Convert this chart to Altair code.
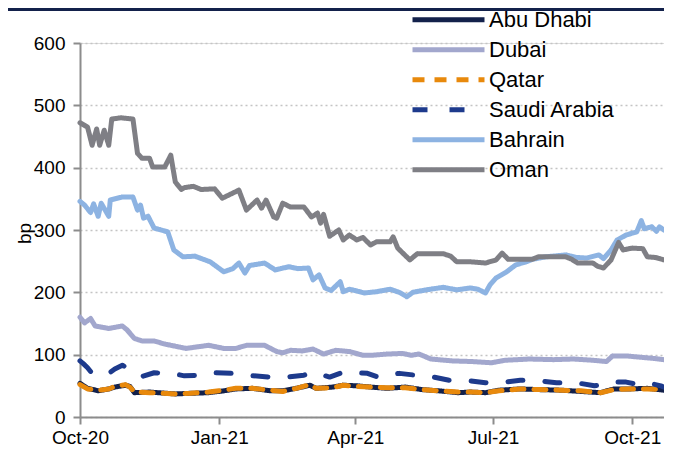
import altair as alt
import pandas as pd

series_names = ["Abu Dhabi", "Dubai", "Qatar", "Saudi Arabia", "Bahrain", "Oman"]
series_colors = ["#13214b", "#a2a7cd", "#e8890c", "#1d3a8c", "#8db3e2", "#7f7f85"]
series_dashes = [[1, 0], [1, 0], [12, 10], [15, 22], [1, 0], [1, 0]]

y_ticks = [0, 100, 200, 300, 400, 500, 600]

abu_dates = ["2020-10-01","2020-10-06","2020-10-13","2020-10-20","2020-10-24","2020-10-31","2020-11-03","2020-11-06","2020-11-16","2020-12-03","2020-12-13","2020-12-25","2021-01-04","2021-01-12","2021-01-23","2021-02-04","2021-02-12","2021-02-21","2021-03-02","2021-03-06","2021-03-17","2021-03-24","2021-04-02","2021-04-11","2021-04-22","2021-05-04","2021-05-15","2021-05-26","2021-06-08","2021-06-16","2021-06-26","2021-07-05","2021-07-19","2021-07-31","2021-08-15","2021-08-28","2021-09-10","2021-09-19","2021-09-29","2021-10-11","2021-10-22"]
abu_values = [54,46,42,45,48,51,49,39,40,37,38,39,42,45,46,42,42,46,51,46,48,51,50,48,46,48,44,42,39,40,39,43,45,44,43,41,39,45,45,46,43]

qatar_dates = abu_dates
qatar_values = [52,45,43,45,49,52,48,40,39,37,38,40,43,46,46,43,41,46,52,46,47,51,49,48,47,47,44,42,40,40,39,42,45,44,43,42,39,44,45,45,44]

dubai_dates = ["2020-10-01","2020-10-04","2020-10-08","2020-10-11","2020-10-20","2020-10-29","2020-11-01","2020-11-06","2020-11-11","2020-11-19","2020-11-26","2020-12-10","2020-12-16","2020-12-25","2021-01-04","2021-01-12","2021-01-19","2021-01-31","2021-02-08","2021-02-12","2021-02-17","2021-02-25","2021-03-04","2021-03-11","2021-03-19","2021-03-28","2021-04-06","2021-04-12","2021-04-22","2021-05-02","2021-05-08","2021-05-13","2021-05-21","2021-06-04","2021-06-17","2021-06-30","2021-07-09","2021-07-25","2021-08-10","2021-08-23","2021-09-05","2021-09-14","2021-09-18","2021-09-27","2021-10-06","2021-10-15","2021-10-22"]
dubai_values = [160,151,158,146,142,146,140,126,122,122,117,110,112,115,110,110,115,115,105,103,107,106,109,101,107,105,99,99,101,102,99,101,93,90,89,87,91,93,92,93,91,89,98,98,96,94,92]

saudi_dates = ["2020-10-01","2020-10-03","2020-10-06","2020-10-09","2020-10-14","2020-10-20","2020-10-24","2020-10-29","2020-11-01","2020-11-06","2020-11-11","2020-11-19","2020-12-03","2020-12-09","2020-12-21","2020-12-28","2021-01-09","2021-01-19","2021-02-04","2021-02-15","2021-02-26","2021-03-04","2021-03-15","2021-03-24","2021-04-02","2021-04-09","2021-04-16","2021-04-24","2021-04-30","2021-05-11","2021-05-23","2021-06-02","2021-06-15","2021-06-26","2021-07-09","2021-07-19","2021-07-31","2021-08-12","2021-08-25","2021-09-06","2021-09-12","2021-09-17","2021-09-27","2021-10-05","2021-10-11","2021-10-20","2021-10-22"]
saudi_values = [90,86,79,70,68,70,77,83,79,72,65,71,69,66,67,71,70,67,64,64,67,72,64,72,71,70,64,68,70,67,64,59,58,55,56,59,58,55,55,50,52,56,56,52,55,50,48]

bahrain_dates = ["2020-10-01","2020-10-04","2020-10-08","2020-10-10","2020-10-13","2020-10-15","2020-10-20","2020-10-21","2020-10-29","2020-11-05","2020-11-08","2020-11-10","2020-11-12","2020-11-15","2020-11-19","2020-11-28","2020-12-02","2020-12-08","2020-12-16","2020-12-26","2021-01-04","2021-01-10","2021-01-14","2021-01-18","2021-01-21","2021-01-31","2021-02-07","2021-02-16","2021-02-22","2021-03-01","2021-03-04","2021-03-08","2021-03-12","2021-03-16","2021-03-22","2021-03-24","2021-03-28","2021-04-07","2021-04-15","2021-04-24","2021-04-30","2021-05-05","2021-05-09","2021-05-18","2021-05-29","2021-06-07","2021-06-16","2021-06-21","2021-06-26","2021-06-29","2021-07-03","2021-07-10","2021-07-16","2021-07-23","2021-07-27","2021-08-05","2021-08-18","2021-08-25","2021-09-01","2021-09-09","2021-09-12","2021-09-17","2021-09-21","2021-09-27","2021-10-04","2021-10-07","2021-10-09","2021-10-14","2021-10-17","2021-10-19","2021-10-22"]
bahrain_values = [346,340,328,342,322,343,322,348,353,353,332,340,319,322,303,297,268,257,258,249,233,238,247,231,243,247,236,241,238,239,220,228,207,203,217,201,205,199,201,205,200,193,200,204,208,204,207,205,199,212,223,233,244,249,253,257,260,256,255,260,254,268,284,292,297,315,302,305,298,305,300]

oman_dates = ["2020-10-01","2020-10-06","2020-10-09","2020-10-12","2020-10-14","2020-10-17","2020-10-20","2020-10-22","2020-10-28","2020-11-05","2020-11-08","2020-11-11","2020-11-16","2020-11-18","2020-11-26","2020-11-30","2020-12-03","2020-12-07","2020-12-09","2020-12-15","2020-12-20","2020-12-29","2021-01-03","2021-01-14","2021-01-19","2021-01-26","2021-01-29","2021-02-01","2021-02-06","2021-02-08","2021-02-12","2021-02-17","2021-02-26","2021-03-03","2021-03-07","2021-03-09","2021-03-11","2021-03-15","2021-03-21","2021-03-24","2021-03-28","2021-04-02","2021-04-06","2021-04-11","2021-04-15","2021-04-24","2021-04-26","2021-04-29","2021-05-07","2021-05-12","2021-05-29","2021-06-03","2021-06-07","2021-06-16","2021-06-26","2021-07-03","2021-07-07","2021-07-11","2021-07-27","2021-07-31","2021-08-18","2021-08-22","2021-08-26","2021-09-05","2021-09-08","2021-09-12","2021-09-17","2021-09-22","2021-09-25","2021-10-01","2021-10-08","2021-10-11","2021-10-16","2021-10-22"]
oman_values = [472,465,436,462,436,460,436,478,480,478,423,415,415,401,401,420,377,365,368,370,365,366,351,364,332,348,335,348,321,319,343,337,337,321,327,311,325,290,300,284,292,284,288,276,281,281,289,271,252,262,262,258,249,249,247,252,263,253,253,257,257,253,247,247,242,239,252,280,268,271,270,257,256,252]

series_data = {
    "Abu Dhabi": (abu_dates, abu_values),
    "Dubai": (dubai_dates, dubai_values),
    "Qatar": (qatar_dates, qatar_values),
    "Saudi Arabia": (saudi_dates, saudi_values),
    "Bahrain": (bahrain_dates, bahrain_values),
    "Oman": (oman_dates, oman_values),
}

rows = []
for name in series_names:
    d, v = series_data[name]
    assert len(d) == len(v), name
    for di, vi in zip(d, v):
        rows.append({"series": name, "date": di, "value": vi})
df = pd.DataFrame(rows)

FONT = "Liberation Sans"
W, H = 584, 374


def dt(y, m, d):
    return alt.DateTime(year=y, month=m, date=d, utc=True)


x_enc = alt.X(
    "date:T",
    scale=alt.Scale(type="utc", domain=[dt(2020, 10, 1), dt(2021, 10, 22)]),
    axis=alt.Axis(
        values=[dt(2020, 10, 1), dt(2021, 1, 1), dt(2021, 4, 1), dt(2021, 7, 1), dt(2021, 10, 1)],
        labelExpr="utcFormat(datum.value, '%b-%y')", title=None, grid=False,
        labelFont=FONT, labelFontSize=19, labelColor="#000000", labelPadding=4,
        domainColor="#8c8c8c", domainWidth=2, tickColor="#8c8c8c", tickWidth=2, tickSize=7,
        labelFlush=False, labelOverlap=False,
    ),
)
y_enc = alt.Y(
    "value:Q",
    scale=alt.Scale(domain=[0, 600], nice=False, zero=True),
    axis=alt.Axis(
        values=y_ticks, title="bp", titleFont=FONT, titleFontSize=19, titleFontWeight="normal",
        titleColor="#000000", titleX=-56, titleY=190, titleAlign="center", titleBaseline="middle",
        labelFont=FONT, labelFontSize=19, labelColor="#000000", labelPadding=8,
        domainColor="#8c8c8c", domainWidth=2, tickColor="#8c8c8c", tickWidth=2, tickSize=7,
        grid=True, gridColor="#c4c4c4", gridDash=[2, 3], gridWidth=1.5,
    ),
)

legend = alt.Legend(
    title=None, orient="none", legendX=330, legendY=-38,
    symbolType="stroke", symbolSize=5184, symbolStrokeWidth=5, clipHeight=29.6,
    labelFont=FONT, labelFontSize=22, labelColor="#000000", labelOffset=2,
    rowPadding=0, padding=0, labelLimit=400,
)
color_enc = alt.Color("series:N", scale=alt.Scale(domain=series_names, range=series_colors), legend=legend)
dash_enc = alt.StrokeDash("series:N", scale=alt.Scale(domain=series_names, range=series_dashes), legend=legend)

layers = []
for name in series_names:
    layers.append(
        alt.Chart(df)
        .transform_filter(alt.datum.series == name)
        .mark_line(strokeWidth=5, strokeJoin="round", strokeCap="round")
        .encode(x=x_enc, y=y_enc, color=color_enc, strokeDash=dash_enc)
    )

top_bar = alt.Chart(pd.DataFrame({"k": [0]})).mark_rect(color="#13214b").encode(
    x=alt.value(-72), x2=alt.value(W + 10), y=alt.value(-35), y2=alt.value(-32)
)

chart = (
    alt.layer(top_bar, *layers)
    .properties(
        width=W, height=H,
        autosize=alt.AutoSizeParams(type="none"),
        padding={"left": 72, "top": 35, "right": 0, "bottom": 36},
    )
    .configure_view(stroke=None)
    .configure(background="white")
)

chart.save("out.html", embed_options={"renderer": "svg", "actions": False})
